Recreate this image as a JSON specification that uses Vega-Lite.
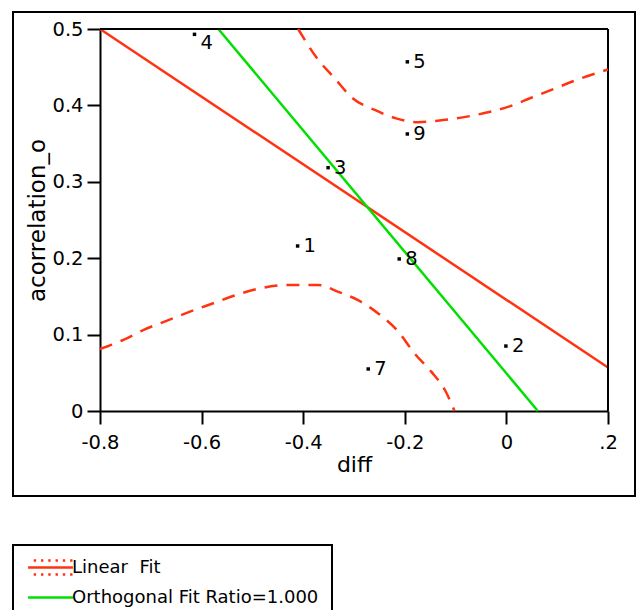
{
  "$schema": "https://vega.github.io/schema/vega-lite/v6.json",
  "width": 622,
  "height": 484,
  "autosize": {"type": "none"},
  "padding": {"left": 13, "top": 12, "right": 3, "bottom": 114},
  "background": "white",
  "config": {
    "font": "DejaVu Sans",
    "view": {"stroke": "black", "strokeWidth": 2}
  },
  "datasets": {
    "points": [
      {"label": "1", "diff": -0.411, "acorrelation_o": 0.216},
      {"label": "2", "diff": -0.001, "acorrelation_o": 0.085},
      {"label": "3", "diff": -0.351, "acorrelation_o": 0.3185},
      {"label": "4", "diff": -0.614, "acorrelation_o": 0.493},
      {"label": "5", "diff": -0.195, "acorrelation_o": 0.457},
      {"label": "7", "diff": -0.272, "acorrelation_o": 0.055},
      {"label": "8", "diff": -0.211, "acorrelation_o": 0.199},
      {"label": "9", "diff": -0.195, "acorrelation_o": 0.3626}
    ],
    "fits": [
      {"fit": "Linear\u00a0 Fit", "diff": -0.8, "acorrelation_o": 0.5},
      {"fit": "Linear\u00a0 Fit", "diff": 0.2, "acorrelation_o": 0.057},
      {"fit": "Orthogonal Fit Ratio=1.000", "diff": -0.567, "acorrelation_o": 0.5},
      {"fit": "Orthogonal Fit Ratio=1.000", "diff": 0.062, "acorrelation_o": 0.0}
    ],
    "bands": [
      {"band": "upper", "diff": -0.41, "acorrelation_o": 0.5},
      {"band": "upper", "diff": -0.373, "acorrelation_o": 0.462},
      {"band": "upper", "diff": -0.338, "acorrelation_o": 0.4355},
      {"band": "upper", "diff": -0.302, "acorrelation_o": 0.409},
      {"band": "upper", "diff": -0.259, "acorrelation_o": 0.394},
      {"band": "upper", "diff": -0.217, "acorrelation_o": 0.383},
      {"band": "upper", "diff": -0.174, "acorrelation_o": 0.378},
      {"band": "upper", "diff": -0.135, "acorrelation_o": 0.38},
      {"band": "upper", "diff": -0.089, "acorrelation_o": 0.384},
      {"band": "upper", "diff": -0.043, "acorrelation_o": 0.39},
      {"band": "upper", "diff": 0.003, "acorrelation_o": 0.398},
      {"band": "upper", "diff": 0.049, "acorrelation_o": 0.41},
      {"band": "upper", "diff": 0.095, "acorrelation_o": 0.422},
      {"band": "upper", "diff": 0.141, "acorrelation_o": 0.434},
      {"band": "upper", "diff": 0.2, "acorrelation_o": 0.447},
      {"band": "lower", "diff": -0.8, "acorrelation_o": 0.0812},
      {"band": "lower", "diff": -0.754, "acorrelation_o": 0.093},
      {"band": "lower", "diff": -0.715, "acorrelation_o": 0.106},
      {"band": "lower", "diff": -0.669, "acorrelation_o": 0.118},
      {"band": "lower", "diff": -0.623, "acorrelation_o": 0.13},
      {"band": "lower", "diff": -0.577, "acorrelation_o": 0.141},
      {"band": "lower", "diff": -0.531, "acorrelation_o": 0.152},
      {"band": "lower", "diff": -0.485, "acorrelation_o": 0.1606},
      {"band": "lower", "diff": -0.426, "acorrelation_o": 0.165},
      {"band": "lower", "diff": -0.371, "acorrelation_o": 0.165},
      {"band": "lower", "diff": -0.331, "acorrelation_o": 0.156},
      {"band": "lower", "diff": -0.292, "acorrelation_o": 0.145},
      {"band": "lower", "diff": -0.253, "acorrelation_o": 0.128},
      {"band": "lower", "diff": -0.213, "acorrelation_o": 0.104},
      {"band": "lower", "diff": -0.181, "acorrelation_o": 0.0755},
      {"band": "lower", "diff": -0.148, "acorrelation_o": 0.0515},
      {"band": "lower", "diff": -0.121, "acorrelation_o": 0.0275},
      {"band": "lower", "diff": -0.102, "acorrelation_o": 0.0}
    ]
  },
  "layer": [
    {
      "data": {"name": "fits"},
      "mark": {"type": "line", "strokeWidth": 2.5},
      "encoding": {
        "x": {
          "field": "diff",
          "type": "quantitative",
          "scale": {"domain": [-0.8, 0.2], "range": [87, 595], "nice": false, "zero": false},
          "axis": {
            "title": "diff",
            "values": [-0.8, -0.6, -0.4, -0.2, 0, 0.2],
            "offset": -85,
            "tickSize": 13,
            "tickWidth": 2,
            "tickColor": "black",
            "domainColor": "black",
            "domainWidth": 2,
            "labelFont": "DejaVu Sans",
            "labelFontSize": 19.5,
            "labelColor": "black",
            "labelPadding": 9,
            "labelFlush": false,
            "labelOverlap": false,
            "labelExpr": "datum.value > 0.15 ? '.2' : (datum.value === 0 ? '0' : (datum.value < 0 ? '-' : '') + format(abs(datum.value), '.1f'))",
            "titleFont": "DejaVu Sans",
            "titleFontSize": 22,
            "titleFontWeight": "normal",
            "titleColor": "black",
            "titlePadding": 3,
            "grid": false
          }
        },
        "y": {
          "field": "acorrelation_o",
          "type": "quantitative",
          "scale": {"domain": [0, 0.5], "range": [399, 17], "nice": false, "zero": false},
          "axis": {
            "orient": "left",
            "title": "acorrelation_o",
            "values": [0, 0.1, 0.2, 0.3, 0.4, 0.5],
            "offset": -87,
            "tickSize": 13,
            "tickWidth": 2,
            "tickColor": "black",
            "domainColor": "black",
            "domainWidth": 2,
            "labelFont": "DejaVu Sans",
            "labelFontSize": 19.5,
            "labelColor": "black",
            "labelPadding": 4,
            "labelFlush": false,
            "labelOverlap": false,
            "labelExpr": "datum.value === 0 ? '0' : format(datum.value, '.1f')",
            "titleFont": "DejaVu Sans",
            "titleFontSize": 23,
            "titleFontWeight": "normal",
            "titleColor": "black",
            "titlePadding": 2,
            "grid": false
          }
        },
        "color": {
          "field": "fit",
          "type": "nominal",
          "scale": {"domain": ["Linear\u00a0 Fit", "Orthogonal Fit Ratio=1.000"], "range": ["#ff3311", "#00e000"]},
          "legend": {
            "orient": "none",
            "legendX": 0,
            "legendY": 533,
            "title": null,
            "strokeColor": "black",
            "fillColor": "white",
            "padding": 13,
            "symbolSize": 256,
            "symbolStrokeWidth": 2.5,
            "symbolOffset": 15,
            "labelOffset": 12,
            "labelFont": "DejaVu Sans",
            "labelFontSize": 18,
            "labelColor": "black",
            "labelLimit": 400,
            "rowPadding": 8,
            "encode": {
              "legend": {"update": {"strokeWidth": {"value": 2}}},
              "symbols": {
                "update": {
                  "shape": {"signal": "indexof(datum.value, 'Linear') === 0 ? 'M-2.8,0H2.8M-2.1,-0.875h0.3M-1.19,-0.875h0.3M-0.28,-0.875h0.3M0.63,-0.875h0.3M1.54,-0.875h0.3M2.45,-0.875h0.3M-2.1,0.875h0.3M-1.19,0.875h0.3M-0.28,0.875h0.3M0.63,0.875h0.3M1.54,0.875h0.3M2.45,0.875h0.3' : 'M-2.8,0H2.8'"},
                  "fill": {"value": "transparent"}
                }
              }
            }
          }
        }
      }
    },
    {
      "data": {"values": [{"k": 1}]},
      "mark": {"type": "rule", "color": "#000000", "strokeWidth": 2},
      "encoding": {
        "x": {"datum": 0.2, "type": "quantitative"},
        "y": {"datum": 0, "type": "quantitative"},
        "y2": {"datum": 0.5}
      }
    },
    {
      "data": {"values": [{"k": 1}]},
      "mark": {"type": "rule", "color": "#000000", "strokeWidth": 2},
      "encoding": {
        "y": {"datum": 0.5, "type": "quantitative"},
        "x": {"datum": -0.8, "type": "quantitative"},
        "x2": {"datum": 0.2}
      }
    },
    {
      "data": {"name": "bands"},
      "mark": {"type": "line", "strokeWidth": 2.5, "color": "#ff3311", "strokeDash": [13, 9], "interpolate": "monotone"},
      "encoding": {
        "x": {"field": "diff", "type": "quantitative"},
        "y": {"field": "acorrelation_o", "type": "quantitative"},
        "detail": {"field": "band", "type": "nominal"}
      }
    },
    {
      "data": {"name": "points"},
      "mark": {"type": "square", "size": 12, "color": "black", "filled": true, "opacity": 1},
      "encoding": {
        "x": {"field": "diff", "type": "quantitative"},
        "y": {"field": "acorrelation_o", "type": "quantitative"}
      }
    },
    {
      "data": {"name": "points"},
      "transform": [{"filter": "datum.label !== '4'"}],
      "mark": {"type": "text", "align": "left", "baseline": "middle", "dx": 6, "font": "DejaVu Sans", "fontSize": 19.5, "color": "black"},
      "encoding": {
        "x": {"field": "diff", "type": "quantitative"},
        "y": {"field": "acorrelation_o", "type": "quantitative"},
        "text": {"field": "label", "type": "nominal"}
      }
    },
    {
      "data": {"name": "points"},
      "transform": [{"filter": "datum.label === '4'"}],
      "mark": {"type": "text", "align": "left", "baseline": "top", "dx": 6, "font": "DejaVu Sans", "fontSize": 19.5, "color": "black"},
      "encoding": {
        "x": {"field": "diff", "type": "quantitative"},
        "y": {"field": "acorrelation_o", "type": "quantitative"},
        "text": {"field": "label", "type": "nominal"}
      }
    }
  ]
}
